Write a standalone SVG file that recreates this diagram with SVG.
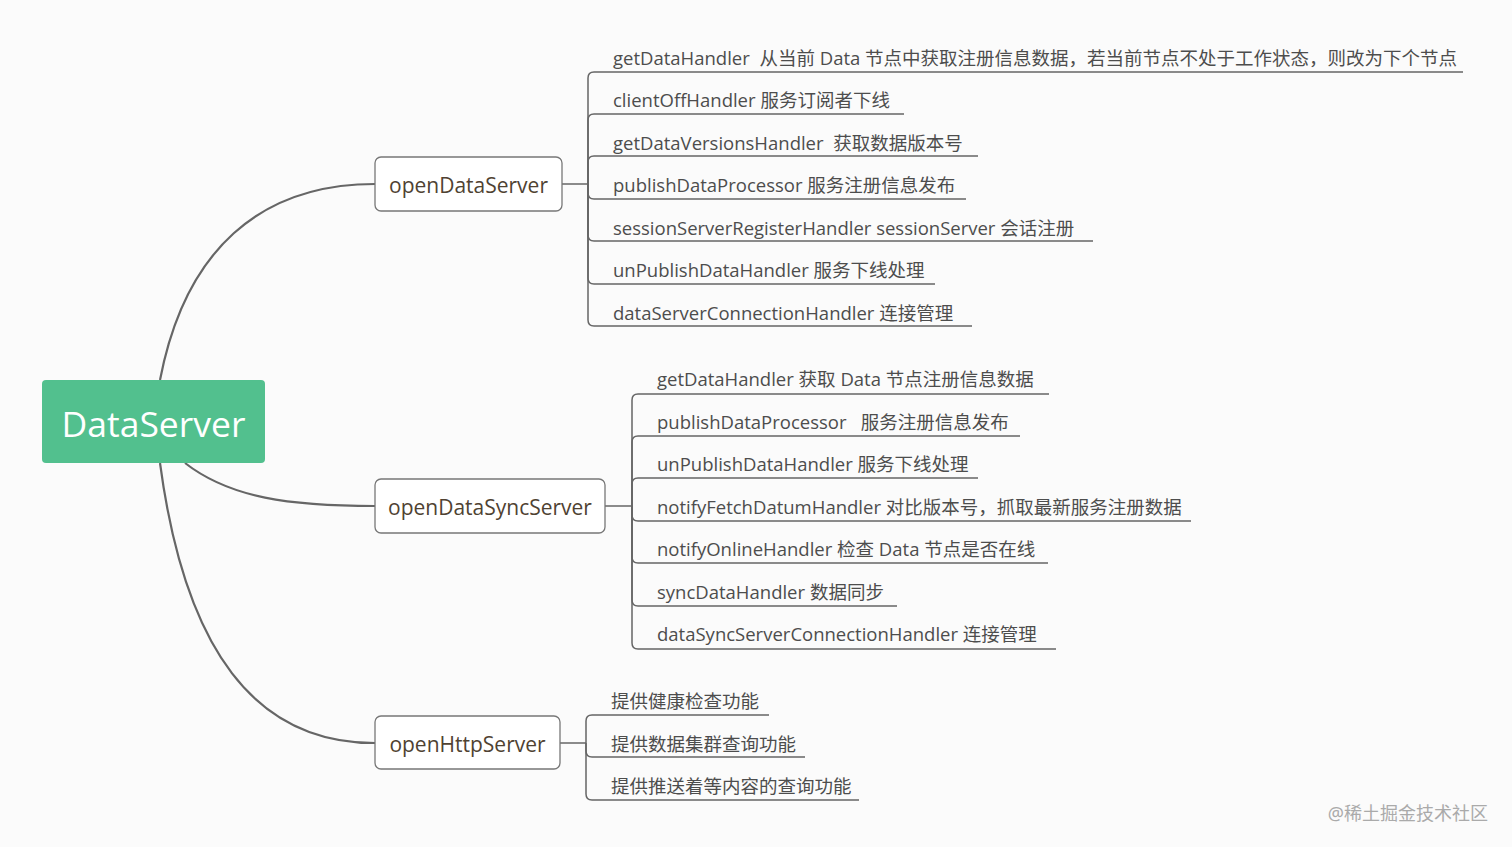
<svg xmlns="http://www.w3.org/2000/svg" width="1512" height="847" viewBox="0 0 1512 847">
<style>
.t{font-family:"Open Sans","Noto Sans CJK SC",sans-serif;font-size:18.5px;fill:#4d4d4d}
.n{font-family:"Open Sans","Noto Sans CJK SC",sans-serif;font-size:21px;fill:#4f4232}
.box{fill:#fff;stroke:#777;stroke-width:1.3}
.c{fill:none;stroke:#666;stroke-width:2.2}
.b{fill:none;stroke:#666;stroke-width:1.5}
</style>
<rect width="1512" height="847" fill="#fbfbfb"/>
<g id="connectors">
<path class="c" d="M160,380 C185,250 260,184 375,184"/>
<path class="c" d="M185,463 C230,498 290,506 375,506"/>
<path class="c" d="M160,463 C185,650 255,743 375,743"/>
<path class="b" d="M562,184 H588"/>
<path class="b" d="M605,506 H632"/>
<path class="b" d="M560,743 H586"/>
<g id="branch1">
<path class="b" d="M588,184 V78 Q588,72 594,72 H1463"/>
<path class="b" d="M588,184 V120 Q588,114 594,114 H904"/>
<path class="b" d="M588,184 V162 Q588,156 594,156 H978"/>
<path class="b" d="M588,184 V193 Q588,199 594,199 H966"/>
<path class="b" d="M588,184 V235 Q588,241 594,241 H1093"/>
<path class="b" d="M588,184 V278 Q588,284 594,284 H935"/>
<path class="b" d="M588,184 V320 Q588,326 594,326 H972"/>
</g>
<g id="branch2">
<path class="b" d="M632,506 V400 Q632,394 638,394 H1049"/>
<path class="b" d="M632,506 V442 Q632,436 638,436 H1020"/>
<path class="b" d="M632,506 V484 Q632,478 638,478 H978"/>
<path class="b" d="M632,506 V515 Q632,521 638,521 H1191"/>
<path class="b" d="M632,506 V557 Q632,563 638,563 H1048"/>
<path class="b" d="M632,506 V600 Q632,606 638,606 H897"/>
<path class="b" d="M632,506 V643 Q632,649 638,649 H1056"/>
</g>
<g id="branch3">
<path class="b" d="M586,743 V721 Q586,715 592,715 H769"/>
<path class="b" d="M586,743 V751 Q586,757 592,757 H805"/>
<path class="b" d="M586,743 V794 Q586,800 592,800 H859"/>
</g>
</g>
<g id="root">
<rect x="42" y="380" width="223" height="83" rx="4" fill="#52c08e"/>
<text x="153.5" y="437" text-anchor="middle" font-family="'Open Sans','Noto Sans',sans-serif" font-size="35.5" fill="#fff">DataServer</text>
</g>
<g id="openDataServer">
<rect class="box" x="375" y="157" width="187" height="54" rx="6"/>
<text class="n" x="468.5" y="193" text-anchor="middle">openDataServer</text>
</g>
<g id="openDataSyncServer">
<rect class="box" x="375" y="479" width="230" height="54" rx="6"/>
<text class="n" x="490" y="515" text-anchor="middle">openDataSyncServer</text>
</g>
<g id="openHttpServer">
<rect class="box" x="375" y="716" width="185" height="53" rx="6"/>
<text class="n" x="467.5" y="752" text-anchor="middle">openHttpServer</text>
</g>
<g id="items1">
<text class="t" x="613" y="65" xml:space="preserve">getDataHandler  从当前 Data 节点中获取注册信息数据，若当前节点不处于工作状态，则改为下个节点</text>
<text class="t" x="613" y="107">clientOffHandler 服务订阅者下线</text>
<text class="t" x="613" y="150" xml:space="preserve">getDataVersionsHandler  获取数据版本号</text>
<text class="t" x="613" y="192">publishDataProcessor 服务注册信息发布</text>
<text class="t" x="613" y="235">sessionServerRegisterHandler sessionServer 会话注册</text>
<text class="t" x="613" y="277">unPublishDataHandler 服务下线处理</text>
<text class="t" x="613" y="320">dataServerConnectionHandler 连接管理</text>
</g>
<g id="items2">
<text class="t" x="657" y="386">getDataHandler 获取 Data 节点注册信息数据</text>
<text class="t" x="657" y="429" xml:space="preserve">publishDataProcessor   服务注册信息发布</text>
<text class="t" x="657" y="471">unPublishDataHandler 服务下线处理</text>
<text class="t" x="657" y="514">notifyFetchDatumHandler 对比版本号，抓取最新服务注册数据</text>
<text class="t" x="657" y="556">notifyOnlineHandler 检查 Data 节点是否在线</text>
<text class="t" x="657" y="599">syncDataHandler 数据同步</text>
<text class="t" x="657" y="641">dataSyncServerConnectionHandler 连接管理</text>
</g>
<g id="items3">
<text class="t" x="611" y="708">提供健康检查功能</text>
<text class="t" x="611" y="751">提供数据集群查询功能</text>
<text class="t" x="611" y="793">提供推送着等内容的查询功能</text>
</g>
<text x="1488" y="820" text-anchor="end" font-family="'Noto Sans','Noto Sans CJK SC',sans-serif" font-size="18" fill="#aaa">@稀土掘金技术社区</text>
</svg>
